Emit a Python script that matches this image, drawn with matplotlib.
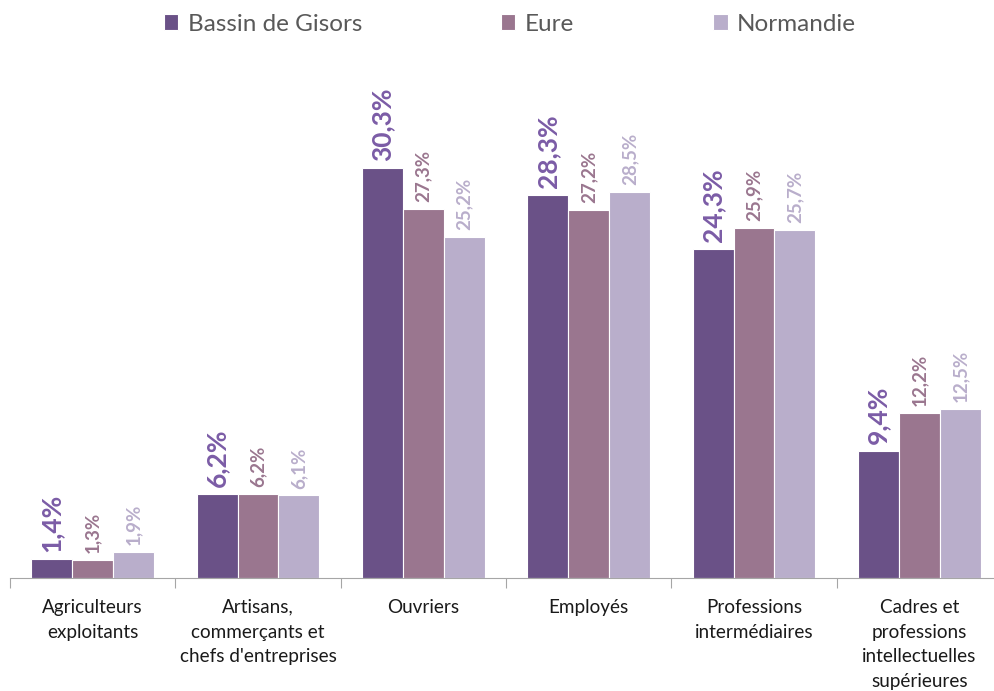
import matplotlib
matplotlib.use("Agg")
import matplotlib.pyplot as plt
import numpy as np

categories = ["Agriculteurs\nexploitants", "Artisans,\ncommerçants et\nchefs d'entreprises",
              "Ouvriers", "Employés", "Professions\nintermédiaires",
              "Cadres et\nprofessions\nintellectuelles\nsupérieures"]
series_names = ["Bassin de Gisors", "Eure", "Normandie"]
gisors = [1.4, 6.2, 30.3, 28.3, 24.3, 9.4]
eure = [1.3, 6.2, 27.3, 27.2, 25.9, 12.2]
normandie = [1.9, 6.1, 25.2, 28.5, 25.7, 12.5]

bar_colors = ["#6a5187", "#9a768f", "#b9aecb"]
label_colors = ["#7b5ca6", "#9a768f", "#b9aecb"]
label_sizes = [19, 13.5, 13.5]

plt.rcParams['font.family'] = ['Lato', 'DejaVu Sans']

fig = plt.figure(figsize=(9.94, 6.91), dpi=100)
ax = fig.add_axes([10/994, (691-578)/691, 992/994, 538/691])

x = np.arange(len(categories))
w = 0.247
for i, vals in enumerate([gisors, eure, normandie]):
    pos = x + (i - 1) * w
    ax.bar(pos, vals, width=w, color=bar_colors[i], edgecolor="white", linewidth=0.8,
           label=series_names[i])
    for p, v in zip(pos, vals):
        ax.annotate(f"{v:.1f}%".replace(".", ","), (p, v), xytext=(0, 5),
                    textcoords="offset points", rotation=90, ha="center", va="bottom",
                    fontsize=label_sizes[i], fontweight="bold", color=label_colors[i])

ax.set_xlim(-0.5, len(categories) - 0.5)
ax.set_ylim(0, 538 / 13.53)
for s in ["top", "right", "left"]:
    ax.spines[s].set_visible(False)
ax.spines["bottom"].set_color("#a6a6a6")
ax.set_yticks([])
ax.set_xticks(np.arange(len(categories) + 1) - 0.5, minor=False)
ax.set_xticklabels([])
ax.tick_params(axis="x", which="major", length=7, color="#a6a6a6")
ax.set_xticks(x, minor=True)
ax.set_xticklabels(categories, minor=True, fontsize=13.6, color="#1a1a1a", linespacing=1.55)
ax.tick_params(axis="x", which="minor", length=0, pad=15)
for t in ax.get_xticklabels(minor=True):
    t.set_va("top")

fig.legend(loc="upper center", bbox_to_anchor=(0.513, 1.012), ncol=3, frameon=False,
           fontsize=17.5, handlelength=0.6, handleheight=0.6, handletextpad=0.4,
           columnspacing=5.7, labelcolor="#595959")

fig.savefig("out.png", dpi=100)
